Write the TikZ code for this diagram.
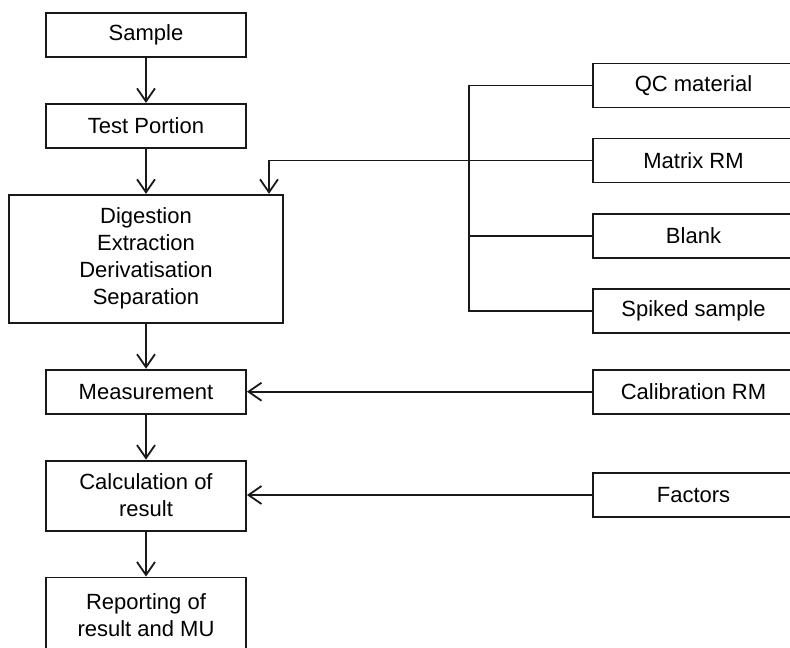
\documentclass[tikz,border=0pt]{standalone}
\usepackage{fontspec}
\setmainfont{Liberation Sans}
\usetikzlibrary{arrows.meta, positioning}
\tikzset{
  stepbox/.style={rectangle, draw=black!90, line width=1.9pt,
                  minimum width=200pt, minimum height=44pt,
                  align=center, inner sep=2pt},
  stepboxT/.style={stepbox, minimum height=70pt},
  inbox/.style={stepbox, minimum width=201pt},
  link/.style={line width=1.8pt, draw=black!90},
  arrow/.style={link, -{Straight Barb[length=13pt, width=18pt]}},
}

\begin{document}
\begin{tikzpicture}[x=1pt, y=-1pt, node distance=45pt,
                    font=\fontsize{22}{27}\selectfont]
  \useasboundingbox (0,0) rectangle (790,648);

  % main chain
  \node[stepbox] (sample) at (146,35) {Sample};
  \node[stepbox,  below=of sample]  (portion) {Test Portion};
  \node[stepbox,  below=of portion, minimum width=274pt,
        minimum height=128pt]      (prep)    {Digestion\\Extraction\\Derivatisation\\Separation};
  \node[stepbox,  below=of prep]    (meas)    {Measurement};
  \node[stepboxT, below=of meas]    (calc)    {Calculation of\\result};
  \node[stepboxT, below=of calc, minimum height=76pt] (report) {Reporting of\\result and MU};

  % inputs
  \node[inbox] (qc)      at (693.5,85.5)  {QC material};
  \node[inbox] (matrix)  at (693.5,160.5) {Matrix RM};
  \node[inbox] (blank)   at (693.5,236)   {Blank};
  \node[inbox] (spiked)  at (693.5,311)   {Spiked sample};
  \node[inbox] (calib)   at (qc |- meas)  {Calibration RM};
  \node[inbox] (factors) at (693.5,495)   {Factors};

  \coordinate (bus)  at (469,0);
  \coordinate (drop) at (269,0);

  \foreach \a/\b in {sample/portion, portion/prep, prep/meas,
                     meas/calc, calc/report}
    \draw[arrow] (\a) -- (\b);

  \draw[link] (qc.west) -- (qc.west -| bus) -- (bus |- spiked.west) -- (spiked.west);
  \draw[link] (blank.west) -- (blank.west -| bus);
  \draw[arrow] (matrix.west) -| (drop |- prep.north);
  \draw[arrow] (calib.west) -- (meas.east);
  \draw[arrow] (factors.west) -- (factors.west -| calc.east);

\end{tikzpicture}
\end{document}
